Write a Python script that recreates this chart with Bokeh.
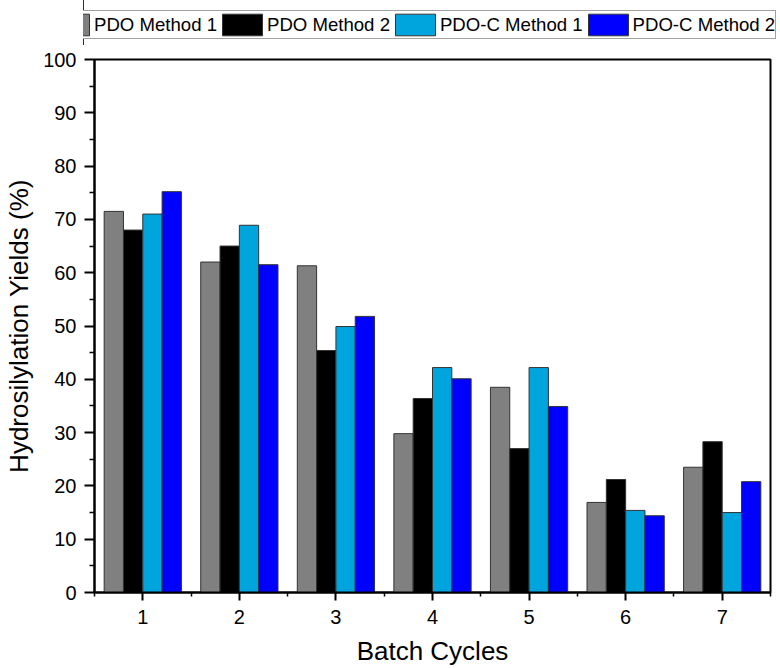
from bokeh.plotting import figure
from bokeh.models import ColumnDataSource, FixedTicker, Legend, LegendItem, Range1d
from bokeh.transform import dodge
from bokeh.layouts import column
from bokeh.embed import file_html
from bokeh.resources import INLINE

# ---- data ----
cycles = [1, 2, 3, 4, 5, 6, 7]
pdo_method_1 = [71.5, 62.0, 61.3, 29.8, 38.5, 16.9, 23.5]
pdo_method_2 = [68.0, 65.0, 45.4, 36.4, 27.0, 21.2, 28.3]
pdoc_method_1 = [71.0, 68.9, 49.9, 42.2, 42.2, 15.4, 15.0]
pdoc_method_2 = [75.2, 61.5, 51.8, 40.1, 34.9, 14.4, 20.8]
series_names = ["PDO Method 1", "PDO Method 2", "PDO-C Method 1", "PDO-C Method 2"]
y_ticks = [0, 10, 20, 30, 40, 50, 60, 70, 80, 90, 100]
x_label = "Batch Cycles"
y_label = "Hydrosilylation Yields (%)"

# ---- styles ----
colors = ["#808080", "#000000", "#00A5DE", "#0000FF"]
offsets = [-0.3, -0.1, 0.1, 0.3]
bar_w = 0.2
FONT = "Liberation Sans"
W = 780
LEG_H = 45
MAIN_H = 668 - LEG_H

source = ColumnDataSource(dict(
    cycle=cycles,
    s0=pdo_method_1,
    s1=pdo_method_2,
    s2=pdoc_method_1,
    s3=pdoc_method_2,
))

# ---- main chart ----
p = figure(width=W, height=MAIN_H, x_range=(0.5, 7.5), y_range=(0, 100),
           output_backend="svg", toolbar_location=None,
           min_border_left=94, min_border_right=10,
           min_border_top=59 - LEG_H, min_border_bottom=75)

renderers = []
for i, name in enumerate(series_names):
    r = p.vbar(x=dodge("cycle", offsets[i], range=p.x_range), top="s%d" % i,
               width=bar_w, bottom=0, source=source,
               fill_color=colors[i], line_color="#333333", line_width=1)
    renderers.append(r)

p.xgrid.visible = False
p.ygrid.visible = False
p.outline_line_color = "black"
p.outline_line_width = 2
p.outline_line_alpha = 1
p.background_fill_color = "white"
p.border_fill_color = "white"

minor_x = [c - 0.5 for c in cycles] + [cycles[-1] + 0.5]
p.xaxis.ticker = FixedTicker(ticks=cycles, minor_ticks=minor_x)
minor_y = [t + 5 for t in y_ticks[:-1]]
p.yaxis.ticker = FixedTicker(ticks=y_ticks, minor_ticks=minor_y)

for ax in (p.xaxis[0], p.yaxis[0]):
    ax.axis_line_width = 2
    ax.axis_line_color = "black"
    ax.major_tick_line_width = 2
    ax.minor_tick_line_width = 1.5
    ax.major_tick_in = 0
    ax.minor_tick_in = 0
    ax.major_label_text_font = FONT
    ax.major_label_text_font_size = "20px"
    ax.major_label_text_color = "black"
    ax.axis_label_text_font = FONT
    ax.axis_label_text_font_size = "26px"
    ax.axis_label_text_font_style = "normal"
    ax.axis_label_text_color = "black"

p.xaxis.axis_label = x_label
p.yaxis.axis_label = y_label
p.xaxis.major_tick_out = 8
p.xaxis.minor_tick_out = 4
p.xaxis.major_label_standoff = 9
p.xaxis.axis_label_standoff = 9
p.yaxis.major_tick_out = 10
p.yaxis.minor_tick_out = 5
p.yaxis.major_label_standoff = 8
p.yaxis.axis_label_standoff = 6

# ---- legend strip ----
lg = figure(width=W, height=LEG_H, x_range=Range1d(100, 101), y_range=Range1d(0, 1),
            output_backend="svg", toolbar_location=None,
            min_border_left=83, min_border_right=0, min_border_top=0, min_border_bottom=0)
try:
    lg.frame_align = False
except Exception:
    pass
lg.xaxis.visible = False
lg.yaxis.visible = False
lg.xgrid.visible = False
lg.ygrid.visible = False
lg.outline_line_color = None
lg.background_fill_color = "white"
lg.border_fill_color = "white"

leg_renderers = []
for i in range(len(series_names)):
    r = lg.vbar(x="cycle", top="s%d" % i, width=bar_w, source=source,
                fill_color=colors[i], line_color="#333333", line_width=1)
    leg_renderers.append(r)

items = [LegendItem(label=n, renderers=[r]) for n, r in zip(series_names, leg_renderers)]
legend = Legend(items=items, orientation="horizontal",
                location=(-40, 6),
                glyph_width=50, glyph_height=27, label_height=27,
                label_standoff=0, spacing=0, padding=0, margin=0,
                label_text_font=FONT, label_text_font_size="18.6px",
                label_text_color="black",
                border_line_color="#444444", border_line_width=1.5,
                background_fill_color="white", background_fill_alpha=1)
lg.add_layout(legend, "center")

layout = column(lg, p, spacing=0)
open("out.html", "w").write(file_html(layout, INLINE))
